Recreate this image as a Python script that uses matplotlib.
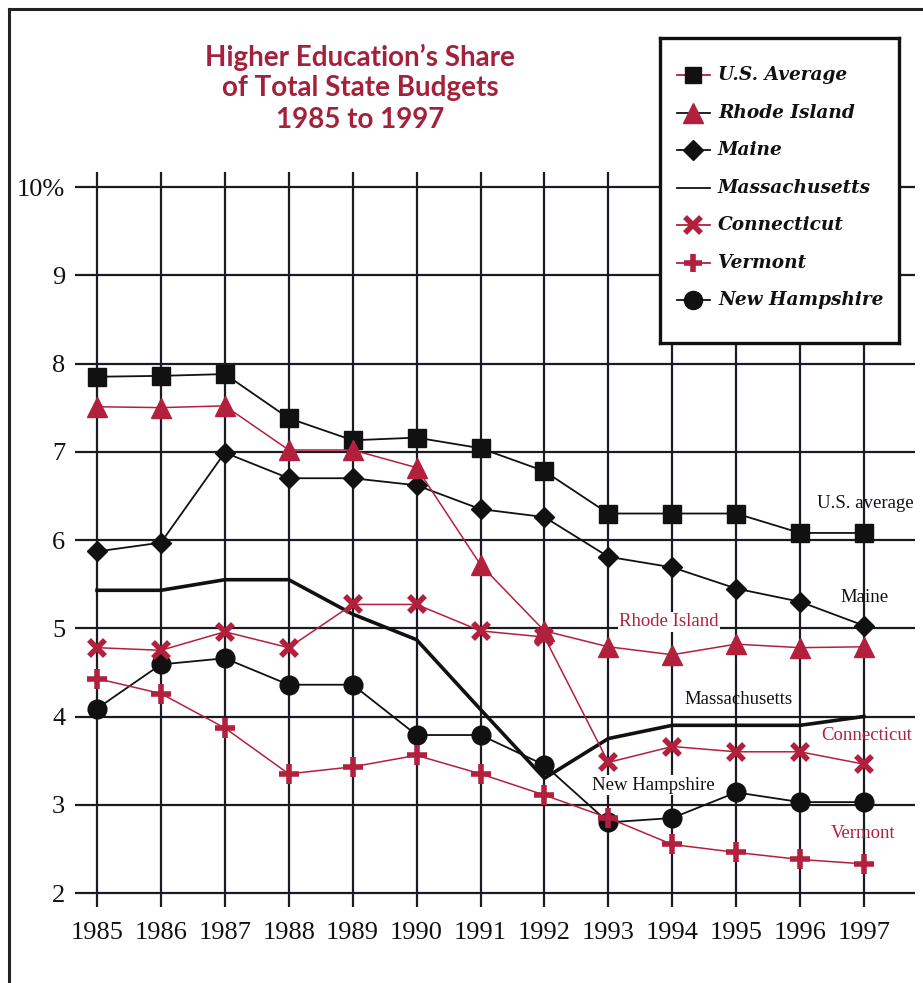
import matplotlib
matplotlib.use("Agg")
import matplotlib.pyplot as plt
from matplotlib.lines import Line2D

# ---- data -------------------------------------------------------------
years = list(range(1985, 1998))
us_average    = [7.85, 7.86, 7.88, 7.38, 7.13, 7.16, 7.04, 6.78, 6.30, 6.30, 6.30, 6.08, 6.08]
rhode_island  = [7.51, 7.50, 7.52, 7.02, 7.02, 6.82, 5.72, 4.97, 4.79, 4.70, 4.82, 4.78, 4.79]
maine         = [5.87, 5.97, 6.99, 6.70, 6.70, 6.62, 6.35, 6.26, 5.81, 5.69, 5.45, 5.30, 5.03]
massachusetts = [5.43, 5.43, 5.55, 5.55, 5.16, 4.87, 4.08, 3.30, 3.75, 3.90, 3.90, 3.90, 4.00]
connecticut   = [4.78, 4.75, 4.96, 4.78, 5.27, 5.27, 4.97, 4.90, 3.48, 3.66, 3.60, 3.60, 3.46]
vermont       = [4.43, 4.26, 3.87, 3.35, 3.43, 3.56, 3.35, 3.11, 2.85, 2.55, 2.46, 2.38, 2.33]
new_hampshire = [4.09, 4.59, 4.66, 4.36, 4.36, 3.79, 3.79, 3.45, 2.80, 2.85, 3.14, 3.03, 3.03]

y_ticks = [2, 3, 4, 5, 6, 7, 8, 9, 10]
y_tick_labels = ["2", "3", "4", "5", "6", "7", "8", "9", "10%"]
x_tick_labels = [str(y) for y in years]

title_lines = ["Higher Education\u2019s Share", "of Total State Budgets", "1985 to 1997"]
legend_labels = ["U.S. Average", "Rhode Island", "Maine", "Massachusetts",
                 "Connecticut", "Vermont", "New Hampshire"]

# ---- styling ----------------------------------------------------------
BLACK = "#111111"
GRID = "#1b1b24"
RED = "#b3203d"
TITLE_RED = "#a3213b"
SERIF = "Liberation Serif"

W, H = 923, 983
fig = plt.figure(figsize=(W / 100, H / 100), dpi=100)
fig.patch.set_facecolor("white")


def fx(px):
    return px / W


def fy(py):
    return 1 - py / H


# plotting area: grid spans the full axes
ax = fig.add_axes([fx(75), fy(907), fx(915) - fx(75), fy(172) - fy(907)])
px_per_year = (864 - 97) / 12
px_per_unit = (893 - 187) / 8
ax.set_xlim(1985 - 22 / px_per_year, 1997 + 51 / px_per_year)
ax.set_ylim(2 - 14 / px_per_unit, 10 + 15 / px_per_unit)
for s in ax.spines.values():
    s.set_visible(False)

ax.set_xticks(years)
ax.set_xticklabels(x_tick_labels, fontfamily=SERIF, fontsize=19)
ax.set_yticks(y_ticks)
ax.set_yticklabels(y_tick_labels, fontfamily=SERIF, fontsize=19)
ax.tick_params(axis="both", length=0, colors=BLACK)
ax.tick_params(axis="x", pad=11)
ax.tick_params(axis="y", pad=7)
ax.grid(True, color=GRID, linewidth=1.6, zorder=0)
ax.set_axisbelow(True)

# series
ax.plot(years, massachusetts, color=BLACK, linewidth=2.6, zorder=3)
ax.plot(years, us_average, color=BLACK, linewidth=1.3, marker="s",
        markersize=12.5, markerfacecolor=BLACK, markeredgecolor=BLACK, zorder=4)
ax.plot(years, maine, color=BLACK, linewidth=1.3, marker="D",
        markersize=10, markerfacecolor=BLACK, markeredgecolor=BLACK, zorder=4)
ax.plot(years, rhode_island, color=RED, linewidth=1.1, marker="^",
        markersize=15, markerfacecolor=RED, markeredgecolor=RED, zorder=5)
ax.plot(years, new_hampshire, color=BLACK, linewidth=1.3, marker="o",
        markersize=13.5, markerfacecolor=BLACK, markeredgecolor=BLACK, zorder=4)
ax.plot(years, connecticut, color=RED, linewidth=1.1, marker="x",
        markersize=12, markeredgewidth=4, markeredgecolor=RED, zorder=5)
ax.plot(years, vermont, color=RED, linewidth=1.1, marker="+",
        markersize=14, markeredgewidth=4, markeredgecolor=RED, zorder=5)

# direct labels
label_kw = dict(fontfamily=SERIF, fontsize=13.5, va="center")
fig.text(fx(817), fy(504), "U.S. average", color=BLACK, ha="left", **label_kw)
fig.text(fx(840), fy(597), "Maine", color=BLACK, ha="left", **label_kw)
fig.text(fx(619), fy(622), "Rhode Island", color=RED, ha="left",
         bbox=dict(facecolor="white", edgecolor="none", pad=1), **label_kw)
fig.text(fx(684), fy(699), "Massachusetts", color=BLACK, ha="left", **label_kw)
fig.text(fx(821), fy(735), "Connecticut", color=RED, ha="left", **label_kw)
fig.text(fx(592), fy(785), "New Hampshire", color=BLACK, ha="left",
         bbox=dict(facecolor="white", edgecolor="none", pad=1), **label_kw)
fig.text(fx(831), fy(833), "Vermont", color=RED, ha="left", **label_kw)

# title
for line, py in zip(title_lines, [57, 88, 120]):
    fig.text(fx(360), fy(py), line, ha="center", va="center", color=TITLE_RED,
             fontfamily="Lato", fontweight="bold", fontsize=20)

# legend box
lg = fig.add_axes([fx(660), fy(343), fx(899) - fx(660), fy(38) - fy(343)])
lg.set_xlim(660, 899)
lg.set_ylim(343, 38)
lg.set_xticks([])
lg.set_yticks([])
lg.set_facecolor("white")
for s in lg.spines.values():
    s.set_linewidth(2.4)
    s.set_color(BLACK)

rows = [75, 113, 150, 188, 225, 263, 300]
handle_styles = [
    dict(line=RED, marker="s", mc=BLACK, ms=12, mew=1),
    dict(line=BLACK, marker="^", mc=RED, ms=14, mew=1),
    dict(line=BLACK, marker="D", mc=BLACK, ms=10, mew=1),
    dict(line=BLACK, marker=None, mc=BLACK, ms=0, mew=1),
    dict(line=RED, marker="x", mc=RED, ms=11, mew=4),
    dict(line=RED, marker="+", mc=RED, ms=13, mew=4),
    dict(line=BLACK, marker="o", mc=BLACK, ms=13, mew=1),
]
for label, py, st in zip(legend_labels, rows, handle_styles):
    lg.plot([677, 710], [py, py], color=st["line"], linewidth=1.3)
    if st["marker"]:
        lg.plot([693.5], [py], marker=st["marker"], markersize=st["ms"],
                markerfacecolor=st["mc"], markeredgecolor=st["mc"],
                markeredgewidth=st["mew"], linestyle="none")
    lg.text(718, py, label, fontfamily="DejaVu Serif", fontweight="bold",
            fontstyle="italic", fontsize=13.3, va="center", ha="left", color=BLACK)

# page frame
fig.add_artist(Line2D([fx(9), fx(9)], [fy(9), 0], color="#222222", linewidth=2.2))
fig.add_artist(Line2D([fx(9), 1], [fy(9), fy(9)], color="#222222", linewidth=2.2))

fig.savefig("out.png", dpi=100, facecolor="white")
